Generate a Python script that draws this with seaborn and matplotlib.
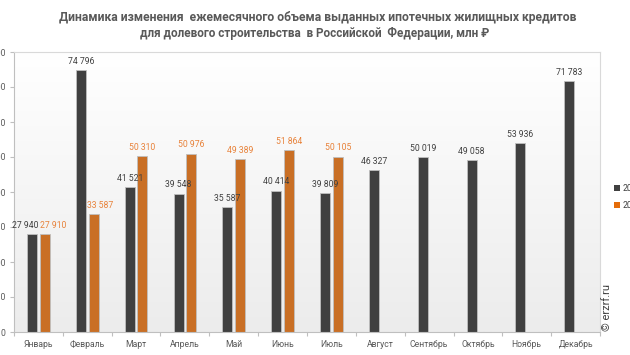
import numpy as np
import pandas as pd
import matplotlib
matplotlib.use("Agg")
import matplotlib.pyplot as plt
import seaborn as sns
from matplotlib.patches import Patch
from matplotlib.colors import LinearSegmentedColormap

months = ["Январь", "Февраль", "Март", "Апрель", "Май", "Июнь", "Июль",
          "Август", "Сентябрь", "Октябрь", "Ноябрь", "Декабрь"]
values_2023 = [27940, 74796, 41521, 39548, 35587, 40414, 39809,
               46327, 50019, 49058, 53936, 71783]
values_2024 = [27910, 33587, 50310, 50976, 49389, 51864, 50105,
               np.nan, np.nan, np.nan, np.nan, np.nan]
series = ["2023", "2024"]
colors = ["#404040", "#E46C0A"]
label_colors = ["#404040", "#E8823A"]
yticks = [0, 10000, 20000, 30000, 40000, 50000, 60000, 70000, 80000]

df = pd.DataFrame({
    "month": months * 2,
    "value": values_2023 + values_2024,
    "year": [series[0]] * 12 + [series[1]] * 12,
})

sns.set_theme(style="white")
plt.rcParams["font.family"] = ["Roboto", "DejaVu Sans"]

fig = plt.figure(figsize=(6.3, 3.55), dpi=100)
ax = fig.add_axes([14 / 630, 1 - 332 / 355, (600 - 14) / 630, (332 - 52) / 355])

# background gradient of the plot area
grad = np.linspace(1.0, 0.0, 256).reshape(-1, 1)
cmap = LinearSegmentedColormap.from_list("bg", ["#ececec", "#ffffff"])
ax.imshow(grad, extent=[0, 1, 0, 1], transform=ax.transAxes, cmap=cmap,
          aspect="auto", zorder=0, origin="upper")

sns.barplot(data=df, x="month", y="value", hue="year", order=months,
            hue_order=series, palette=colors, width=0.52, gap=0.22,
            edgecolor="#bfbfbf", linewidth=0.6, ax=ax, legend=False, zorder=2)

px = 0.72  # points per pixel at 100 dpi
shifts = {(0, 0): -7, (1, 0): 8, (1, 1): 7}
for si, (cont, col) in enumerate(zip(ax.containers, label_colors)):
    labs = []
    for bar in cont:
        h = bar.get_height()
        labs.append("" if (h is None or np.isnan(h)) else f"{int(h):,}".replace(",", " "))
    anns = ax.bar_label(cont, labels=labs, padding=3, fontsize=6.2, color=col)
    for mi, a in enumerate(anns):
        if (si, mi) in shifts:
            dx, dy = a.xyann
            a.xyann = (dx + shifts[(si, mi)] * px, dy)

ax.set_xlim(-0.5, 11.5)
ax.set_ylim(0, 80000)
ax.set_yticks(yticks)
ax.set_yticklabels([f"{v:,}".replace(",", " ") for v in yticks])
ax.set_xlabel("")
ax.set_ylabel("")
ax.set_xticks(range(12))
ax.set_xticklabels(months)
ax.set_xticks(np.arange(-0.5, 12, 1), minor=True)
ax.tick_params(axis="x", which="major", length=0, labelsize=6.2, colors="#595959", pad=6)
ax.tick_params(axis="x", which="minor", length=3, color="#bfbfbf", width=0.8, bottom=True)
ax.tick_params(axis="y", which="major", length=3, color="#bfbfbf", width=0.8,
               labelsize=6.2, colors="#595959", pad=3, left=True)
for s in ax.spines.values():
    s.set_color("#d9d9d9")
    s.set_linewidth(0.8)
ax.spines["left"].set_color("#bfbfbf")
ax.spines["bottom"].set_color("#bfbfbf")
ax.grid(False)

fig.text(0.505, 1 - 17 / 355, "Динамика изменения  ежемесячного объема выданных ипотечных жилищных кредитов",
         ha="center", va="center", fontsize=8.7, fontweight="bold", color="#595959")
fig.text(0.500, 1 - 33 / 355, "для долевого строительства  в Российской  Федерации, млн ₽",
         ha="center", va="center", fontsize=8.5, fontweight="bold", color="#595959")

handles = [Patch(facecolor=c, edgecolor="none") for c in colors]
fig.legend(handles, series, loc="upper left", bbox_to_anchor=(614 / 630, 1 - 184 / 355),
           frameon=False, fontsize=6.2, handlelength=0.7, handleheight=0.7,
           handletextpad=0.3, labelspacing=0.9, borderaxespad=0, borderpad=0,
           labelcolor="#404040")

fig.text(607 / 630, 1 - 331 / 355, "© erzrf.ru", rotation=90, ha="center", va="bottom",
         fontsize=8, color="#404040")

fig.savefig("out.png", dpi=100)
